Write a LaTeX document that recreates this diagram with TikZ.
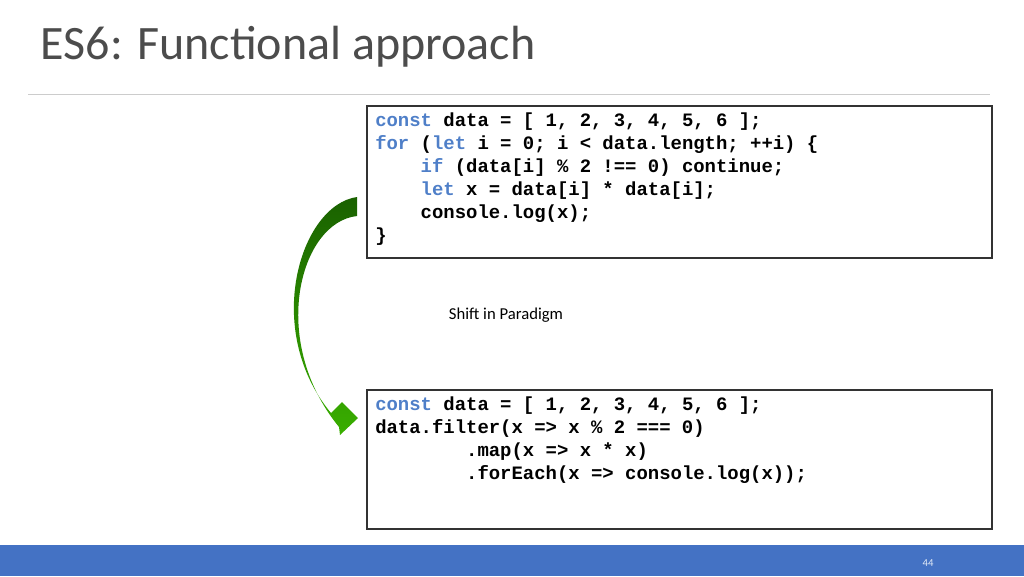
\documentclass[tikz,border=0pt]{standalone}
\usepackage{fontspec}
\setmainfont{Carlito}
\setmonofont{Liberation Mono}
\usetikzlibrary{positioning}
\definecolor{kw}{HTML}{4F7FC8}
\definecolor{barblue}{HTML}{4472C4}
\newcommand{\kw}[1]{\textcolor{kw}{#1}}
\begin{document}
\begin{tikzpicture}[x=0.75pt, y=-0.75pt,
  codebox/.style = {draw=black!80, line width=0.8pt},
  code/.style = {anchor=north west, align=left, inner sep=0pt,
    font=\ttfamily\bfseries\fontsize{14.2}{17.25}\selectfont}]
\useasboundingbox (0,0) rectangle (1024,576);
\node[anchor=west, text=black!70, font=\fontsize{36}{40}\selectfont] (title) at (36,47) {ES6: Functional approach};
\draw[black!20, line width=0.7pt] (28,94) -- (990,94);

\draw[codebox] (367,106) rectangle (992,258);
\node[code] (oldcode) at (375,113) {\kw{const} data = [ 1, 2, 3, 4, 5, 6 ];\\
\kw{for} (\kw{let} i = 0; i < data.length; ++i) \{\\
\ \ \ \ \kw{if} (data[i] \% 2 !== 0) continue;\\
\ \ \ \ \kw{let} x = data[i] * data[i];\\
\ \ \ \ console.log(x);\\
\}};

\node[font=\fontsize{12.5}{14}\selectfont] (shift) at (506,315) {Shift in Paradigm};

\draw[codebox] (367,390) rectangle (992,529);
\node[code] (newcode) at (375,397) {\kw{const} data = [ 1, 2, 3, 4, 5, 6 ];\\
data.filter(x => x \% 2 === 0)\\
\ \ \ \ \ \ \ \ .map(x => x * x)\\
\ \ \ \ \ \ \ \ .forEach(x => console.log(x));};

% curved arrow
\shade[top color=green!35!black!80!olive, bottom color=green!55!black!70!lime, draw=none]
  (357,197) .. controls (300,205) and (262,330) .. (331,413)
  -- (342,402) -- (358,418) -- (340,435) -- (339,427)
  .. controls (268,340) and (300,222) .. (357,216) -- cycle;

\fill[barblue] (0,545) rectangle (1024,576);
\node[text=white!85!barblue, font=\fontsize{8}{9}\selectfont] (page) at (928,563) {44};
\end{tikzpicture}
\end{document}
